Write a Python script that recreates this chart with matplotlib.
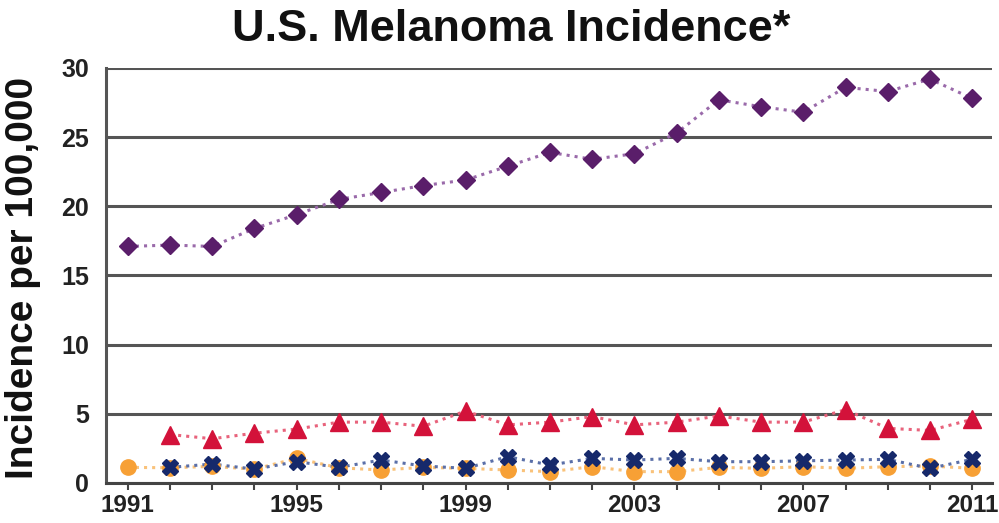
import numpy as np
import matplotlib
matplotlib.use('Agg')
import matplotlib.pyplot as plt

plt.rcParams['font.family'] = ['Liberation Sans', 'DejaVu Sans']
plt.rcParams['font.weight'] = 'bold'

years = np.arange(1991, 2012)

# incidence per 100,000 by year (None where no data point)
purple = [17.1, 17.2, 17.1, 18.4, 19.4, 20.5, 21.0, 21.5, 21.9, 22.9, 23.9,
          23.4, 23.8, 25.3, 27.7, 27.2, 26.8, 28.6, 28.3, 29.2, 27.8]
red = [None, 3.5, 3.2, 3.6, 3.9, 4.4, 4.4, 4.1, 5.2, 4.2, 4.4,
       4.8, 4.2, 4.4, 4.85, 4.4, 4.4, 5.3, 3.95, 3.8, 4.6]
navy = [None, 1.13, 1.37, 1.0, 1.54, 1.13, 1.66, 1.23, 1.06, 1.9, 1.3,
        1.78, 1.66, 1.78, 1.54, 1.54, 1.6, 1.66, 1.71, 1.06, 1.71]
orange = [1.13, 1.1, 1.2, 1.0, 1.78, 1.1, 0.94, 1.13, 1.06, 0.94, 0.82,
          1.18, 0.82, 0.82, 1.13, 1.06, 1.18, 1.06, 1.18, 1.23, 1.06]

xtick_years = [1991, 1995, 1999, 2003, 2007, 2011]
yticks = [0, 5, 10, 15, 20, 25, 30]


def to_arr(vals):
    return np.array([np.nan if v is None else v for v in vals], dtype=float)


fig = plt.figure(figsize=(9.99, 5.23), dpi=100)
ax = fig.add_axes([0.106, 0.0765, 0.887, 0.7935])

# series: (values, line colour, marker colour, marker, size)
series = [
    (orange, '#f9c27a', '#f7a035', 'o', 11),
    (navy, '#5a6fa8', '#16296b', 'X', 11),
    (red, '#e8637c', '#d3123a', '^', 13),
    (purple, '#9a6aaa', '#5a1e6a', 'D', 9),
]
for vals, lc, mc, m, ms in series:
    y = to_arr(vals)
    ax.plot(years, y, ':', color=lc, lw=2.2, zorder=3)
    ax.plot(years, y, linestyle='none', marker=m, ms=ms, color=mc,
            markeredgecolor=mc, zorder=4)

ax.set_xlim(1990.48, 2011.47)
ax.set_ylim(0, 30)
ax.set_yticks(yticks)
ax.set_xticks(years)
ax.set_xticklabels([str(y) if y in xtick_years else '' for y in years])
ax.yaxis.grid(True, color='#555555', lw=2.2, zorder=1)
ax.set_axisbelow(True)

for s in ['top', 'right']:
    ax.spines[s].set_visible(False)
ax.spines['left'].set_color('#555555')
ax.spines['left'].set_linewidth(2.2)
ax.spines['bottom'].set_color('#444444')
ax.spines['bottom'].set_linewidth(2.2)

ax.tick_params(axis='y', length=0, labelsize=18, pad=12)
ax.tick_params(axis='x', length=5, width=1.5, color='#444444',
               labelsize=17.5, pad=3)
for lab in ax.get_xticklabels() + ax.get_yticklabels():
    lab.set_fontweight('bold')
    lab.set_color('#222222')

fig.text(0.023, 0.469, 'Incidence per 100,000', rotation=90, ha='center',
         va='center', fontsize=28, fontweight='bold', color='#111111')
fig.text(0.512, 0.944, 'U.S. Melanoma Incidence*', ha='center', va='center',
         fontsize=32.5, fontweight='bold', color='#111111')

fig.savefig('out.png', dpi=100)
